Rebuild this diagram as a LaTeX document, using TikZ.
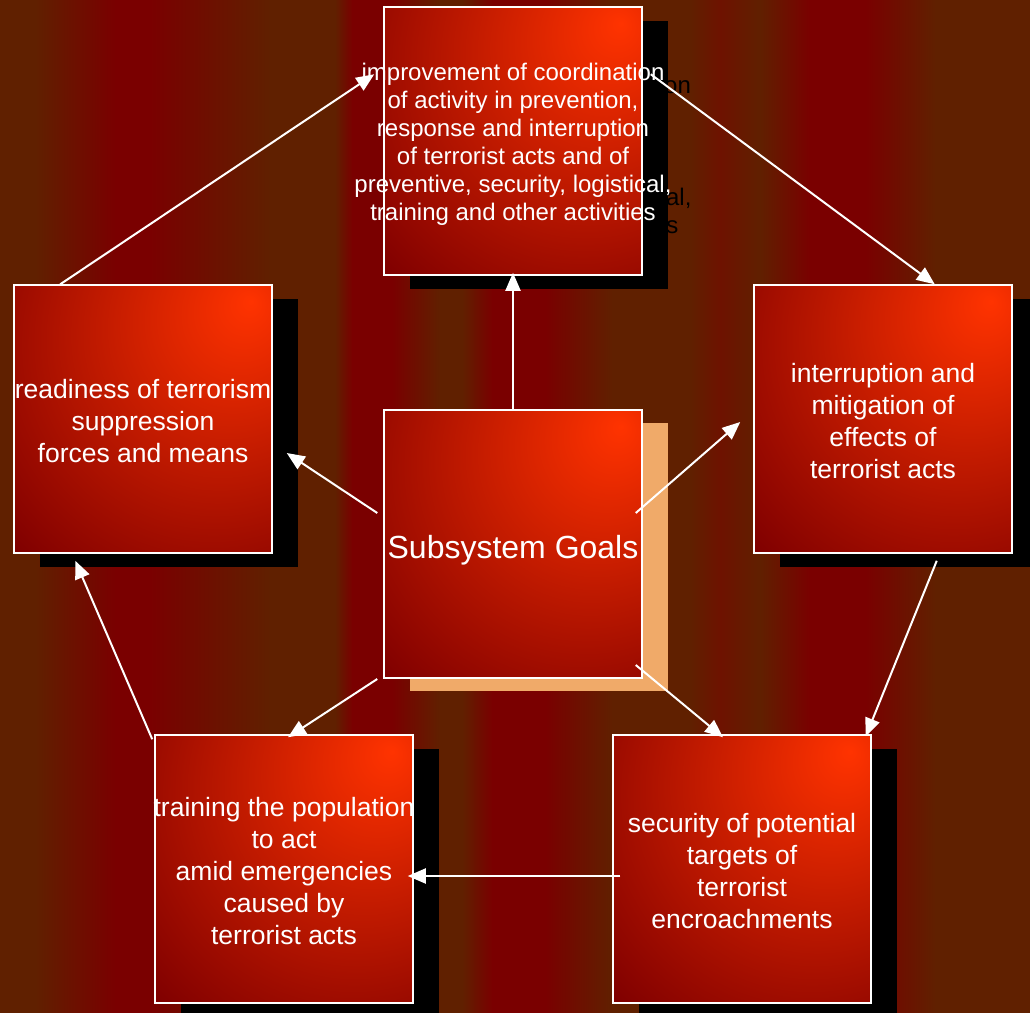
\documentclass[tikz,border=0pt]{standalone}
\usepackage{fontspec}
\setmainfont{Liberation Sans}
\usepackage{tikz}
\usetikzlibrary{arrows.meta,shadows}
\definecolor{bgbrown}{RGB}{96,32,0}
\definecolor{bgred}{RGB}{122,0,0}
\definecolor{bgmid}{RGB}{110,18,0}
\definecolor{goalhi}{RGB}{255,51,0}
\definecolor{goallo}{RGB}{128,0,0}
\definecolor{goalpeach}{RGB}{240,170,105}
\pgfdeclareradialshading{goalshade}{\pgfpoint{21bp}{22bp}}{color(0bp)=(goalhi); color(50bp)=(goallo); color(100bp)=(goallo)}

\tikzset{
  goalbase/.style={rectangle, minimum width=258pt, minimum height=268pt, inner sep=0pt,
    draw=white, line width=1.5pt, shade, shading=goalshade, shading angle=0},
  goal/.style={goalbase, general shadow={fill=black, shadow xshift=26pt, shadow yshift=-14pt}},
  hub/.style={goalbase, general shadow={fill=goalpeach, shadow xshift=26pt, shadow yshift=-13pt}},
  goaltext/.style={text=white, align=center, yshift=-2pt, font=\fontsize{26.5}{32}\selectfont},
  toptext/.style={align=center, font=\fontsize{24}{28}\selectfont},
  link/.style={draw=white, line width=2pt, -{Triangle[length=18pt,width=15pt]}},
}

\begin{document}
\begin{tikzpicture}[x=1pt,y=-1pt]
\useasboundingbox (0,0) rectangle (1030,1012);
\clip (0,0) rectangle (1030,1012);

% striped background
\foreach \xa/\xb/\ca/\cb in {0/35/bgbrown/bgbrown, 35/115/bgbrown/bgred, 115/150/bgred/bgred,
    150/270/bgred/bgbrown, 270/335/bgbrown/bgbrown, 335/352/bgbrown/bgred, 352/392/bgred/bgred,
    392/440/bgred/bgbrown, 440/462/bgbrown/bgbrown, 462/492/bgbrown/bgred, 492/545/bgred/bgred,
    545/612/bgred/bgbrown, 612/690/bgbrown/bgbrown, 690/720/bgbrown/bgmid, 720/760/bgmid/bgbrown,
    760/810/bgbrown/bgred, 810/865/bgred/bgred, 865/935/bgred/bgbrown, 935/1030/bgbrown/bgbrown}
  \shade[left color=\ca, right color=\cb] (\xa,0) rectangle (\xb+0.6,1012);

% what shows of the top text's shadow
\node[toptext, anchor=base west, inner sep=0pt] (shadea) at (664,93) {on};
\node[toptext, anchor=base east] (shadeb) at (695,205) {al,};
\node[toptext, anchor=base east] (shadec) at (682,233) {s};

% goal boxes
\node[goal, label={[toptext, text=white, yshift=-3pt]center:{improvement of coordination\\of activity in prevention,\\response and interruption\\of terrorist acts and of\\preventive, security, logistical,\\training and other activities}}] (top) at (513,141) {};
\node[goal, label={[goaltext]center:{readiness of terrorism\\suppression\\forces and means}}] (lft) at (143,419) {};
\node[goal, label={[goaltext]center:{interruption and\\mitigation of\\effects of\\terrorist acts}}] (rgt) at (883,419) {};
\node[goal, label={[goaltext]center:{training the population\\to act\\amid emergencies\\caused by\\terrorist acts}}] (bl) at (284,869) {};
\node[goal, label={[goaltext]center:{security of potential\\targets of\\terrorist\\encroachments}}] (br) at (742,869) {};
\node[hub, label={[goaltext, yshift=-4pt, font=\fontsize{32}{38}\selectfont]center:{Subsystem Goals}}] (ctr) at (513,544) {};

% outer cycle
\draw[link] ([xshift=47pt]lft.north west) -- ([xshift=-9pt,yshift=-68pt]top.north west);
\draw[link] ([xshift=8pt,yshift=-68pt]top.north east) -- ([xshift=-78pt]rgt.north east);
\draw[link] ([xshift=-76pt,yshift=-7pt]rgt.south east) -- ([xshift=-6pt,yshift=-2pt]br.north east);
\draw[link] ([xshift=8pt,yshift=-7pt]br.west) -- ([xshift=-6pt,yshift=-7pt]bl.east);
\draw[link] ([xshift=-2pt,yshift=-5pt]bl.north west) -- ([xshift=62pt,yshift=-7pt]lft.south west);

% spokes from the hub
\draw[link] (ctr.north) -- ([yshift=3pt]top.south);
\draw[link] ([xshift=-7pt,yshift=31pt]ctr.east) -- ([xshift=-13pt,yshift=-3pt]rgt.west);
\draw[link] ([xshift=-7pt,yshift=-121pt]ctr.east) -- ([xshift=-19pt,yshift=-3pt]br.north);
\draw[link] ([xshift=-6pt,yshift=-135pt]ctr.west) -- ([xshift=4pt,yshift=-3pt]bl.north);
\draw[link] ([xshift=-6pt,yshift=31pt]ctr.west) -- ([xshift=14pt,yshift=-34pt]lft.east);
\end{tikzpicture}
\end{document}
